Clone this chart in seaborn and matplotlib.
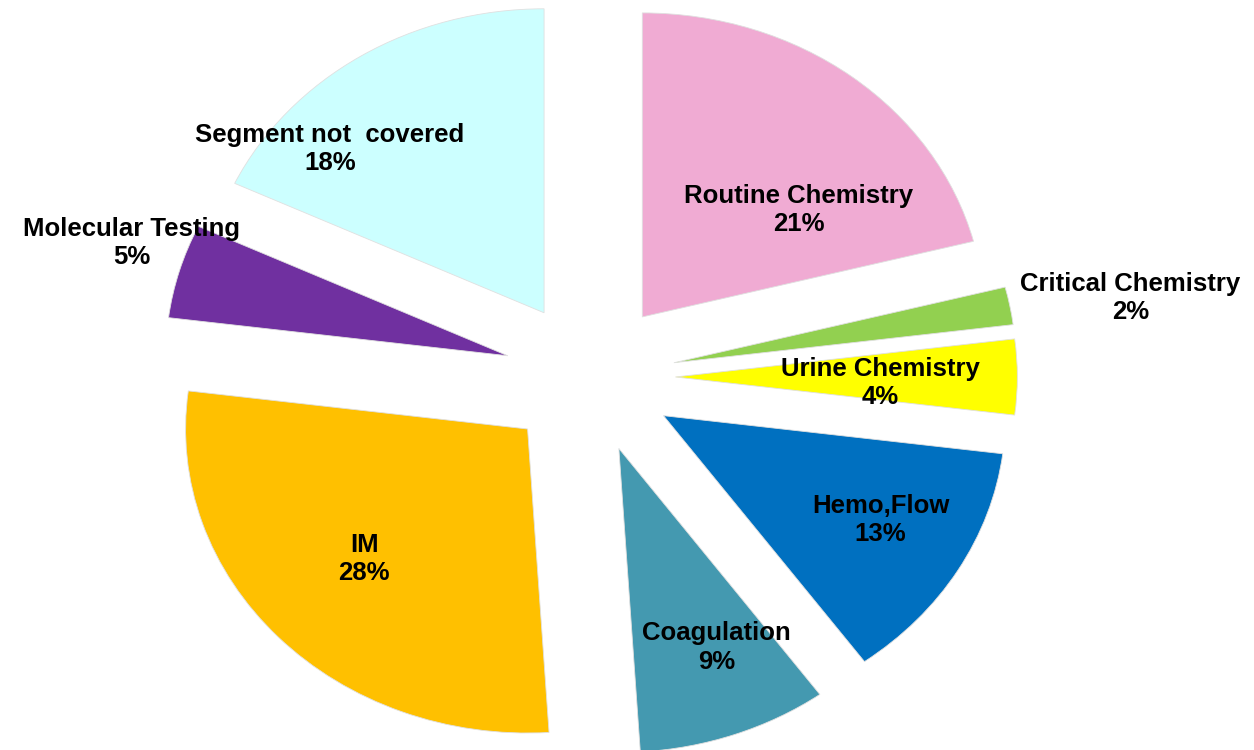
import matplotlib
matplotlib.use("Agg")
import matplotlib.pyplot as plt
import seaborn as sns

sns.set_theme(style="white")
plt.rcParams["font.family"] = ["Liberation Sans", "DejaVu Sans"]

# Segments, counter-clockwise from 12 o'clock
categories = ["Segment not  covered", "Molecular Testing", "IM", "Coagulation",
              "Hemo,Flow", "Urine Chemistry", "Critical Chemistry", "Routine Chemistry"]
shares = [18, 5, 28, 9, 13, 4, 2, 21]
colors = ["#CCFFFF", "#7030A0", "#FFC000", "#4499B0",
          "#0070C0", "#FFFF00", "#92D050", "#F0ABD3"]

# Label anchor points in data units (pie radius = 1)
label_pos = [(-0.76, 0.75), (-1.34, 0.44), (-0.66, -0.60), (0.37, -0.89),
             (0.85, -0.47), (0.85, -0.02), (1.58, 0.26), (0.61, 0.55)]

fig = plt.figure(figsize=(12.54, 7.5), dpi=100)
ax = fig.add_axes([0, 0, 1, 1])

ax.pie(shares, colors=colors, startangle=90, counterclock=True,
       explode=[0.25] * len(shares), radius=1.0,
       wedgeprops=dict(linewidth=0.6, edgecolor="#e0e0e0"))

for name, val, (x, y) in zip(categories, shares, label_pos):
    ax.text(x, y, f"{name}\n{val}%", ha="center", va="center",
            fontsize=18.5, fontweight="bold", color="black", linespacing=1.22)

ax.set_aspect("auto")
ax.set_xlim(-1.725, 1.942)
ax.set_ylim(-1.227, 1.240)
ax.axis("off")

fig.savefig("out.png", dpi=100, facecolor="white")
